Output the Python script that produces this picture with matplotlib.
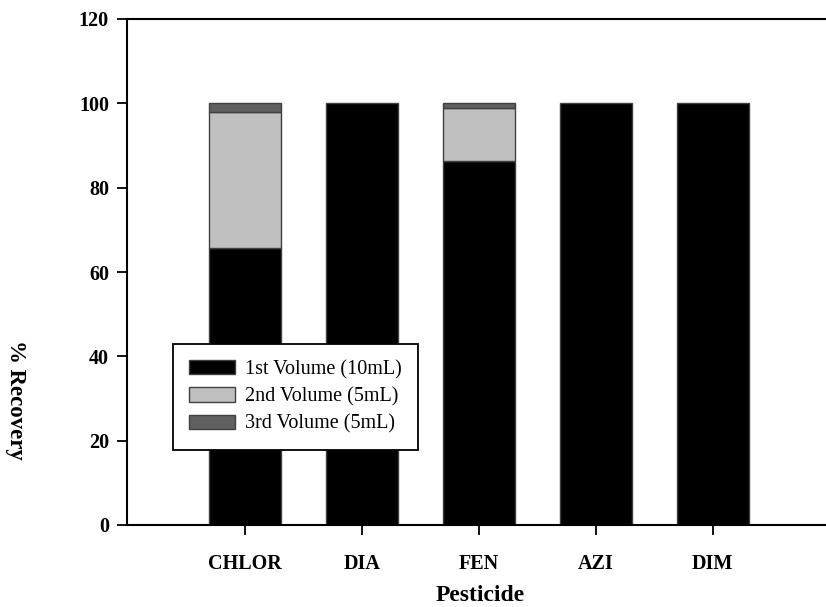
import matplotlib
matplotlib.use("Agg")
import matplotlib.pyplot as plt
import numpy as np

categories = ["CHLOR", "DIA", "FEN", "AZI", "DIM"]
vol1 = [65.6, 100.0, 86.3, 100.0, 100.0]
vol2 = [32.3, 0.0, 12.5, 0.0, 0.0]
vol3 = [2.1, 0.0, 1.2, 0.0, 0.0]
series_labels = ["1st Volume (10mL)", "2nd Volume (5mL)", "3rd Volume (5mL)"]
colors = ["#000000", "#c0c0c0", "#606060"]
yticks = [0, 20, 40, 60, 80, 100, 120]

plt.rcParams['font.family'] = ['Liberation Serif', 'DejaVu Serif']

fig = plt.figure(figsize=(8.26, 6.07), dpi=100)
ax = fig.add_axes([127/826, 1-525/607, 1-127/826, (525-19)/607])

x = np.arange(len(categories))
w = 0.615
ec = "#404040"
b1 = ax.bar(x, vol1, w, color=colors[0], edgecolor=ec, linewidth=1.0, label=series_labels[0])
b2 = ax.bar(x, vol2, w, bottom=vol1, color=colors[1], edgecolor=ec, linewidth=1.0, label=series_labels[1])
bot3 = [a + b for a, b in zip(vol1, vol2)]
b3 = ax.bar(x, vol3, w, bottom=bot3, color=colors[2], edgecolor=ec, linewidth=1.0, label=series_labels[2])
for bars, vals in ((b2, vol2), (b3, vol3)):
    for p, v in zip(bars, vals):
        if v == 0:
            p.set_visible(False)

ax.set_xlim(-1.01, 4.97)
ax.set_ylim(0, 120)
ax.set_yticks(yticks)
ax.set_xticks(x)
ax.set_xticklabels(categories)
ax.spines['right'].set_visible(False)
for s in ('left', 'bottom', 'top'):
    ax.spines[s].set_linewidth(1.5)
ax.tick_params(axis='both', direction='out', length=7, width=1.3, labelsize=14.5, pad=6)
ax.tick_params(axis='x', pad=14)
for lab in ax.get_xticklabels() + ax.get_yticklabels():
    lab.set_fontweight('bold')

ax.set_ylabel("% Recovery", fontsize=16.5, fontweight='bold', rotation=270)
ax.yaxis.set_label_coords(-0.1745, 0.247)
ax.set_xlabel("Pesticide", fontsize=17, fontweight='bold')
ax.xaxis.set_label_coords(0.505, -0.1195)

leg = ax.legend(loc='upper left', bbox_to_anchor=(0.0658, 0.358), borderaxespad=0,
                fontsize=14.5, frameon=True, fancybox=False, handlelength=2.3,
                handleheight=0.7, handletextpad=0.5, labelspacing=0.4,
                borderpad=0.8)
leg.get_frame().set_edgecolor('black')
leg.get_frame().set_linewidth(1.3)
leg.get_frame().set_alpha(1)

fig.savefig("out.png", dpi=100)
